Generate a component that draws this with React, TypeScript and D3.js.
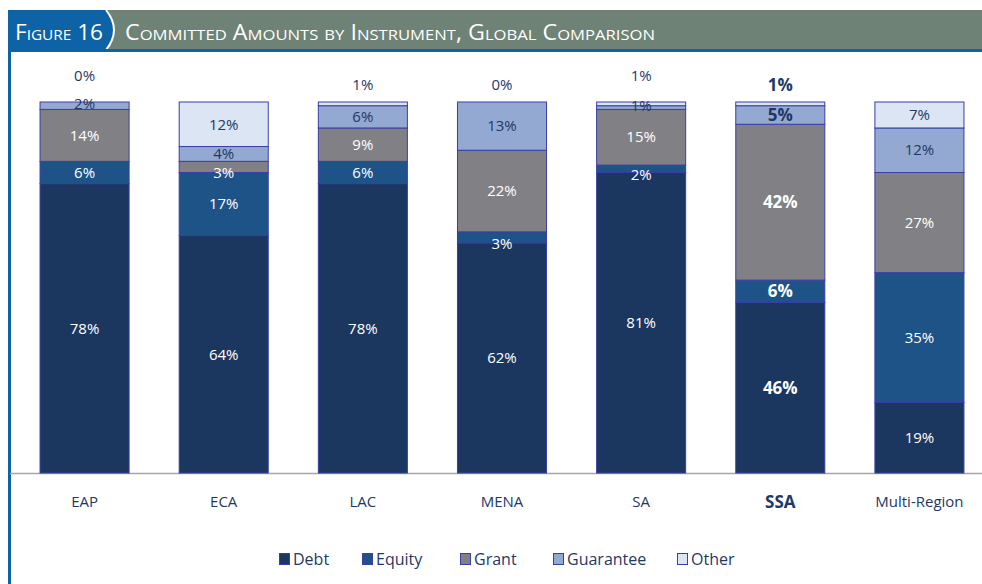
import React from "react";
import * as d3 from "d3";

const categories = ["EAP", "ECA", "LAC", "MENA", "SA", "SSA", "Multi-Region"];
const seriesNames = ["Debt", "Equity", "Grant", "Guarantee", "Other"];
const debt = [78, 64, 78, 62, 81, 46, 19];
const equity = [6, 17, 6, 3, 2, 6, 35];
const grant = [14, 3, 9, 22, 15, 42, 27];
const guarantee = [2, 4, 6, 13, 1, 5, 12];
const other = [0, 12, 1, 0, 1, 1, 7];
const titleLabel = "Figure 16";
const titleText = "Committed Amounts by Instrument, Global Comparison";

const W = 982;
const H = 584;
const FONT = "'Open Sans', sans-serif";
const colors = ["#1b375f", "#1e5387", "#818185", "#94a9d2", "#dce5f3"];
const labelColors = ["#ffffff", "#ffffff", "#ffffff", "#1f3864", "#1f3864"];
const navy = "#1f3864";

export default function App() {
  const values = [debt, equity, grant, guarantee, other];
  const rows = categories.map((c, i) => {
    const r: any = { cat: c };
    seriesNames.forEach((s, k) => (r[s] = values[k][i]));
    return r;
  });
  const stack = d3.stack().keys(seriesNames)(rows as any);
  const x = d3.scaleBand().domain(categories).range([15, 989]).paddingInner(0.36).paddingOuter(0.18);
  const y = d3.scaleLinear().domain([0, 100]).range([473, 102]);

  const legendX = [279, 362, 460, 553, 677];

  return (
    <svg width={W} height={H} style={{ position: "absolute", left: 0, top: 0 }}>
      <rect x={0} y={0} width={W} height={H} fill="#fff" />
      {/* header */}
      <rect x={8} y={10} width={W - 8} height={40} fill="#6e8276" />
      <path d="M8,10 L106,10 Q122,30 106,50 L8,50 Z" fill="#0d63a5" />
      <path d="M106,10 Q122,30 106,50" fill="none" stroke="#fff" strokeWidth={2} />
      <rect x={8} y={49} width={W - 8} height={3} fill="#0d63a5" />
      <rect x={8} y={49} width={3} height={H - 49} fill="#0d63a5" />
      <text x={15} y={40} fill="#fff" fontFamily={FONT} fontSize={22} style={{ fontVariant: "small-caps" }}
        textLength={88} lengthAdjust="spacingAndGlyphs">{titleLabel}</text>
      <text x={125} y={40} fill="#fff" fontFamily={FONT} fontSize={21} style={{ fontVariant: "small-caps" }}
        textLength={530} lengthAdjust="spacingAndGlyphs">{titleText}</text>

      {/* baseline */}
      <line x1={10} x2={W} y1={473.5} y2={473.5} stroke="#a6a6a6" strokeWidth={1.5} />

      {stack.map((layer, k) => (
        <g key={layer.key}>
          {layer.map((d: any, i: number) => {
            const cat = categories[i];
            const x0 = x(cat)!;
            const y0 = y(d[1]);
            const h = y(d[0]) - y(d[1]);
            return (
              <rect key={cat} x={x0} y={y0} width={x.bandwidth()} height={h}
                fill={colors[k]} stroke="#3a3ea6" strokeWidth={1} />
            );
          })}
        </g>
      ))}

      {stack.map((layer, k) => (
        <g key={"l" + layer.key}>
          {layer.map((d: any, i: number) => {
            const cat = categories[i];
            const v = values[k][i];
            const bold = cat === "SSA";
            const cx = x(cat)! + x.bandwidth() / 2;
            let cy = (y(d[0]) + y(d[1])) / 2;
            let fill = labelColors[k];
            if ((k === 1 || k === 2) && v <= 3) cy += 6;
            if (k === 3 && v <= 2) cy -= 2;
            if (k === 4 && v <= 1) {
              cy = values[3][i] <= 2 ? 76 : 85;
              fill = navy;
            }
            return (
              <text key={cat} x={cx} y={cy} dy="0.35em" textAnchor="middle" fill={fill}
                fontFamily={FONT} fontSize={bold ? 17 : 15} fontWeight={bold ? "bold" : "normal"}>
                {v + "%"}
              </text>
            );
          })}
        </g>
      ))}

      {categories.map((c) => (
        <text key={c} x={x(c)! + x.bandwidth() / 2} y={502} dy="0.35em" textAnchor="middle"
          fill={navy} fontFamily={FONT} fontSize={c === "SSA" ? 17 : 15} fontWeight={c === "SSA" ? "bold" : "normal"}>
          {c}
        </text>
      ))}

      {seriesNames.map((s, k) => (
        <g key={s} transform={`translate(${legendX[k]},553)`}>
          <rect x={0.5} y={0.5} width={10} height={11} fill={colors[k]} stroke="#3a3ea6" strokeWidth={1} />
          <text x={14} y={6} dy="0.35em" fill={navy} fontFamily={FONT} fontSize={16}>{s}</text>
        </g>
      ))}
    </svg>
  );
}
